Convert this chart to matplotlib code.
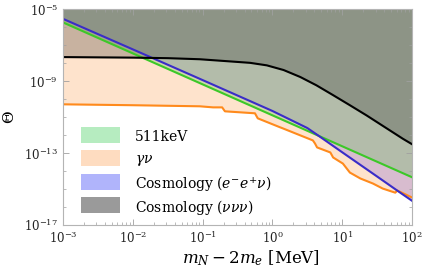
import matplotlib.pyplot as plt
from matplotlib.patches import Rectangle
from matplotlib.ticker import FixedLocator, NullFormatter
import numpy as np

plt.rcParams['font.family'] = 'DejaVu Serif'
plt.rcParams['mathtext.fontset'] = 'dejavuserif'

# values, stored as log10(m_N - 2m_e / MeV) and log10(Theta)
keVLogM = [-3, 2]
keVLogT = [-5.72, -14.34]

gnuLogM = [-3, -2, -1.04, -0.85, -0.72, -0.68, -0.25, -0.21, 0.11, 0.15, 0.58,
           0.61, 0.64, 0.83, 0.87, 1.01, 1.11, 1.26, 1.44, 1.58, 1.76, 1.79, 2]
gnuLogT = [-10.28, -10.33, -10.39, -10.45, -10.45, -10.67, -10.78, -11.06, -11.56, -11.62, -12.29,
           -12.46, -12.68, -12.96, -13.24, -13.58, -14.08, -14.41, -14.69, -14.97, -15.2, -15.08, -15.47]

eeLogM = [-3, -2, -1, 0, 0.5, 0.65, 1, 1.5, 1.85, 2]
eeLogT = [-5.52, -7.22, -8.93, -10.65, -11.6, -12.0, -12.95, -14.3, -15.25, -15.65]

nnLogM = [-3, -2, -1.5, -1.04, -0.32, -0.08, 0.16, 0.40, 0.63, 0.87, 1.11, 1.35, 1.59, 1.87, 2]
nnLogT = [-7.65, -7.68, -7.71, -7.77, -7.97, -8.11, -8.37, -8.76, -9.22, -9.77, -10.33,
          -10.9, -11.5, -12.2, -12.5]

labels = ['511keV', r'$\gamma\nu$', r'Cosmology $(e^{-}e^{+}\nu)$', r'Cosmology $(\nu\nu\nu)$']
legColors = ['#b6ecc0', '#fedcc0', '#b0b4fb', '#9a9a9a']

W, H = 425, 275
fig = plt.figure(figsize=(W / 100, H / 100), dpi=100)
ax = fig.add_axes([63 / W, 50 / H, 349 / W, 215.5 / H])
ax.set_xscale('log')
ax.set_yscale('log')
ax.set_xlim(1e-3, 1e2)
ax.set_ylim(1e-17, 1e-5)
top = 1e-5

def pw(a):
    return 10.0 ** np.array(a)

# excluded regions, filled from each bound up to the top
ax.fill_between(pw(gnuLogM), pw(gnuLogT), top, color=(254/255, 227/255, 204/255), lw=0)
ax.fill_between(pw(eeLogM), pw(eeLogT), top, color=(159/255, 130/255, 214/255), alpha=0.4, lw=0)
ax.fill_between(pw(keVLogM), pw(keVLogT), top, color=(96/255, 191/255, 85/255), alpha=0.3, lw=0)
ax.fill_between(pw(nnLogM), pw(nnLogT), top, color='black', alpha=0.21, lw=0)

ax.plot(pw(gnuLogM), pw(gnuLogT), color='#ff8a1c', lw=1.5)
ax.plot(pw(keVLogM), pw(keVLogT), color='#3cc828', lw=1.5)
ax.plot(pw(eeLogM), pw(eeLogT), color='#3a2cc8', lw=1.5)
ax.plot(pw(nnLogM), pw(nnLogT), color='black', lw=1.5)

ax.yaxis.set_major_locator(FixedLocator([1e-17, 1e-13, 1e-9, 1e-5]))
ax.yaxis.set_minor_locator(FixedLocator(10.0 ** np.arange(-17, -4)))
ax.yaxis.set_minor_formatter(NullFormatter())
ax.tick_params(which='both', direction='in', top=True, right=True, color='#a0a0a0',
               labelsize=8.5, labelcolor='#222222')
ax.tick_params(which='major', length=4, width=0.6)
ax.tick_params(which='minor', length=2, width=0.5)
for s in ax.spines.values():
    s.set_color('#b4b4b4')

ax.set_xlabel(r'$m_N - 2m_e$ [MeV]', fontsize=12)
ax.xaxis.set_label_coords(0.54, -0.11)
ax.set_ylabel(r'$\Theta$', fontsize=11)
ax.yaxis.set_label_coords(-0.133, 0.5)

# legend: swatches with labels, drawn in figure pixels
for i, (c, lab) in enumerate(zip(legColors, labels)):
    yTop = 127 + i * 23.4
    fig.add_artist(Rectangle((81 / W, 1 - (yTop + 16) / H), 39 / W, 16 / H,
                             transform=fig.transFigure, facecolor=c, edgecolor='none'))
    fig.text(135 / W, 1 - (yTop + 8) / H, lab, fontsize=10, va='center_baseline', ha='left')

fig.savefig('out.png', dpi=100)
